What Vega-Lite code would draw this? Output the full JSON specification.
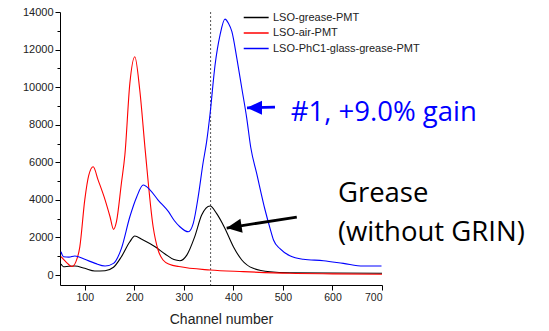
{
  "$schema": "https://vega.github.io/schema/vega-lite/v6.json",
  "width": 322,
  "height": 273,
  "autosize": "none",
  "padding": {"left": 60, "top": 12, "right": 167, "bottom": 46},
  "background": "white",
  "config": {
    "view": {"stroke": null},
    "axis": {"labelFont": "Liberation Sans", "titleFont": "Liberation Sans", "labelColor": "#222", "titleColor": "#222", "domainColor": "#000", "tickColor": "#000", "grid": false, "labelFontSize": 11}
  },
  "resolve": {"axis": {"y": "independent"}},
  "datasets": {
    "curves": [
      {"channel": 52, "count": 585, "series": "LSO-grease-PMT"},
      {"channel": 57, "count": 440, "series": "LSO-grease-PMT"},
      {"channel": 68, "count": 470, "series": "LSO-grease-PMT"},
      {"channel": 80, "count": 480, "series": "LSO-grease-PMT"},
      {"channel": 100, "count": 355, "series": "LSO-grease-PMT"},
      {"channel": 120, "count": 215, "series": "LSO-grease-PMT"},
      {"channel": 141, "count": 230, "series": "LSO-grease-PMT"},
      {"channel": 158, "count": 410, "series": "LSO-grease-PMT"},
      {"channel": 174, "count": 975, "series": "LSO-grease-PMT"},
      {"channel": 191, "count": 1770, "series": "LSO-grease-PMT"},
      {"channel": 201, "count": 2075, "series": "LSO-grease-PMT"},
      {"channel": 215, "count": 1900, "series": "LSO-grease-PMT"},
      {"channel": 242, "count": 1500, "series": "LSO-grease-PMT"},
      {"channel": 262, "count": 1120, "series": "LSO-grease-PMT"},
      {"channel": 280, "count": 820, "series": "LSO-grease-PMT"},
      {"channel": 292, "count": 760, "series": "LSO-grease-PMT"},
      {"channel": 306, "count": 1060, "series": "LSO-grease-PMT"},
      {"channel": 322, "count": 2040, "series": "LSO-grease-PMT"},
      {"channel": 336, "count": 3190, "series": "LSO-grease-PMT"},
      {"channel": 353, "count": 3670, "series": "LSO-grease-PMT"},
      {"channel": 366, "count": 3280, "series": "LSO-grease-PMT"},
      {"channel": 383, "count": 2480, "series": "LSO-grease-PMT"},
      {"channel": 400, "count": 1510, "series": "LSO-grease-PMT"},
      {"channel": 417, "count": 800, "series": "LSO-grease-PMT"},
      {"channel": 440, "count": 355, "series": "LSO-grease-PMT"},
      {"channel": 474, "count": 170, "series": "LSO-grease-PMT"},
      {"channel": 514, "count": 120, "series": "LSO-grease-PMT"},
      {"channel": 600, "count": 105, "series": "LSO-grease-PMT"},
      {"channel": 700, "count": 90, "series": "LSO-grease-PMT"},
      {"channel": 52, "count": 975, "series": "LSO-air-PMT"},
      {"channel": 62, "count": 700, "series": "LSO-air-PMT"},
      {"channel": 74, "count": 450, "series": "LSO-air-PMT"},
      {"channel": 82, "count": 700, "series": "LSO-air-PMT"},
      {"channel": 90, "count": 1500, "series": "LSO-air-PMT"},
      {"channel": 100, "count": 4000, "series": "LSO-air-PMT"},
      {"channel": 108, "count": 5300, "series": "LSO-air-PMT"},
      {"channel": 117, "count": 5760, "series": "LSO-air-PMT"},
      {"channel": 127, "count": 5050, "series": "LSO-air-PMT"},
      {"channel": 141, "count": 4000, "series": "LSO-air-PMT"},
      {"channel": 151, "count": 3100, "series": "LSO-air-PMT"},
      {"channel": 158, "count": 2430, "series": "LSO-air-PMT"},
      {"channel": 164, "count": 2840, "series": "LSO-air-PMT"},
      {"channel": 174, "count": 4900, "series": "LSO-air-PMT"},
      {"channel": 181, "count": 6400, "series": "LSO-air-PMT"},
      {"channel": 191, "count": 10200, "series": "LSO-air-PMT"},
      {"channel": 201, "count": 11620, "series": "LSO-air-PMT"},
      {"channel": 211, "count": 9850, "series": "LSO-air-PMT"},
      {"channel": 222, "count": 6650, "series": "LSO-air-PMT"},
      {"channel": 238, "count": 2570, "series": "LSO-air-PMT"},
      {"channel": 248, "count": 1330, "series": "LSO-air-PMT"},
      {"channel": 258, "count": 800, "series": "LSO-air-PMT"},
      {"channel": 272, "count": 560, "series": "LSO-air-PMT"},
      {"channel": 290, "count": 450, "series": "LSO-air-PMT"},
      {"channel": 353, "count": 266, "series": "LSO-air-PMT"},
      {"channel": 420, "count": 180, "series": "LSO-air-PMT"},
      {"channel": 514, "count": 90, "series": "LSO-air-PMT"},
      {"channel": 600, "count": 60, "series": "LSO-air-PMT"},
      {"channel": 700, "count": 40, "series": "LSO-air-PMT"},
      {"channel": 52, "count": 1240, "series": "LSO-PhC1-glass-grease-PMT"},
      {"channel": 57, "count": 975, "series": "LSO-PhC1-glass-grease-PMT"},
      {"channel": 68, "count": 950, "series": "LSO-PhC1-glass-grease-PMT"},
      {"channel": 80, "count": 1010, "series": "LSO-PhC1-glass-grease-PMT"},
      {"channel": 100, "count": 835, "series": "LSO-PhC1-glass-grease-PMT"},
      {"channel": 121, "count": 620, "series": "LSO-PhC1-glass-grease-PMT"},
      {"channel": 141, "count": 480, "series": "LSO-PhC1-glass-grease-PMT"},
      {"channel": 158, "count": 620, "series": "LSO-PhC1-glass-grease-PMT"},
      {"channel": 174, "count": 1420, "series": "LSO-PhC1-glass-grease-PMT"},
      {"channel": 191, "count": 3100, "series": "LSO-PhC1-glass-grease-PMT"},
      {"channel": 205, "count": 4170, "series": "LSO-PhC1-glass-grease-PMT"},
      {"channel": 218, "count": 4790, "series": "LSO-PhC1-glass-grease-PMT"},
      {"channel": 232, "count": 4520, "series": "LSO-PhC1-glass-grease-PMT"},
      {"channel": 248, "count": 3990, "series": "LSO-PhC1-glass-grease-PMT"},
      {"channel": 269, "count": 3370, "series": "LSO-PhC1-glass-grease-PMT"},
      {"channel": 281, "count": 2890, "series": "LSO-PhC1-glass-grease-PMT"},
      {"channel": 292, "count": 2570, "series": "LSO-PhC1-glass-grease-PMT"},
      {"channel": 309, "count": 2300, "series": "LSO-PhC1-glass-grease-PMT"},
      {"channel": 319, "count": 2750, "series": "LSO-PhC1-glass-grease-PMT"},
      {"channel": 329, "count": 4170, "series": "LSO-PhC1-glass-grease-PMT"},
      {"channel": 339, "count": 6000, "series": "LSO-PhC1-glass-grease-PMT"},
      {"channel": 346, "count": 7100, "series": "LSO-PhC1-glass-grease-PMT"},
      {"channel": 353, "count": 8600, "series": "LSO-PhC1-glass-grease-PMT"},
      {"channel": 363, "count": 11180, "series": "LSO-PhC1-glass-grease-PMT"},
      {"channel": 373, "count": 12770, "series": "LSO-PhC1-glass-grease-PMT"},
      {"channel": 383, "count": 13620, "series": "LSO-PhC1-glass-grease-PMT"},
      {"channel": 390, "count": 13400, "series": "LSO-PhC1-glass-grease-PMT"},
      {"channel": 397, "count": 12950, "series": "LSO-PhC1-glass-grease-PMT"},
      {"channel": 407, "count": 11530, "series": "LSO-PhC1-glass-grease-PMT"},
      {"channel": 417, "count": 9940, "series": "LSO-PhC1-glass-grease-PMT"},
      {"channel": 427, "count": 8340, "series": "LSO-PhC1-glass-grease-PMT"},
      {"channel": 435, "count": 6800, "series": "LSO-PhC1-glass-grease-PMT"},
      {"channel": 447, "count": 5410, "series": "LSO-PhC1-glass-grease-PMT"},
      {"channel": 464, "count": 3460, "series": "LSO-PhC1-glass-grease-PMT"},
      {"channel": 474, "count": 2480, "series": "LSO-PhC1-glass-grease-PMT"},
      {"channel": 481, "count": 1860, "series": "LSO-PhC1-glass-grease-PMT"},
      {"channel": 494, "count": 1400, "series": "LSO-PhC1-glass-grease-PMT"},
      {"channel": 514, "count": 1020, "series": "LSO-PhC1-glass-grease-PMT"},
      {"channel": 541, "count": 835, "series": "LSO-PhC1-glass-grease-PMT"},
      {"channel": 582, "count": 760, "series": "LSO-PhC1-glass-grease-PMT"},
      {"channel": 622, "count": 620, "series": "LSO-PhC1-glass-grease-PMT"},
      {"channel": 662, "count": 480, "series": "LSO-PhC1-glass-grease-PMT"},
      {"channel": 699, "count": 480, "series": "LSO-PhC1-glass-grease-PMT"}
    ],
    "arrows": [
      {"x": 427.5, "y": 8900, "x2": 484, "y2": 8940, "color": "#0000ff", "angle": 0},
      {"x": 386.5, "y": 2500, "x2": 528, "y2": 3087, "color": "#000000", "angle": 351}
    ],
    "labels": [
      {"x": 516, "y": 8620, "text": "#1, +9.0% gain", "color": "#0000ff"},
      {"x": 611, "y": 4300, "text": "Grease", "color": "#000000"},
      {"x": 611, "y": 2230, "text": "(without GRIN)", "color": "#000000"}
    ]
  },
  "layer": [
    {
      "data": {"values": [{"channel": 354}]},
      "mark": {"type": "rule", "color": "#555", "strokeDash": [2, 2], "strokeWidth": 1},
      "encoding": {"x": {"field": "channel", "type": "quantitative", "scale": {"domain": [50, 700]}}}
    },
    {
      "data": {"name": "curves"},
      "mark": {"type": "line", "strokeWidth": 1.1, "interpolate": "monotone"},
      "encoding": {
        "x": {"field": "channel", "type": "quantitative", "scale": {"domain": [50, 700], "nice": false, "zero": false},
          "axis": {"title": "Channel number", "titleFontSize": 14, "titleFontWeight": "normal", "titlePadding": 10, "labelFontSize": 10.5, "labelOverlap": false, "values": [100,150,200,250,300,350,400,450,500,550,600,650,700], "labelExpr": "datum.value % 100 === 0 ? datum.label : ''", "tickSize": {"condition": {"test": "datum.value % 100 !== 0", "value": 3}, "value": 5}, "labelPadding": 2}},
        "y": {"field": "count", "type": "quantitative", "scale": {"domain": [-532, 14000], "nice": false, "zero": false},
          "axis": {"title": null, "orient": "left", "labelOverlap": false, "format": "d", "values": [0,2000,4000,6000,8000,10000,12000,14000], "tickSize": 5, "labelPadding": 2}},
        "color": {"field": "series", "type": "nominal",
          "scale": {"domain": ["LSO-grease-PMT", "LSO-air-PMT", "LSO-PhC1-glass-grease-PMT"], "range": ["#000000", "#ff0000", "#0000ff"]},
          "legend": {"title": null, "orient": "none", "legendX": 199, "legendY": 0, "symbolType": "M -5 0 L 1 0", "symbolSize": 69, "symbolStrokeWidth": 1.5, "labelFont": "Liberation Sans", "labelFontSize": 11, "labelColor": "#222", "labelOffset": 3, "rowPadding": 3.5}}
      }
    },
    {
      "data": {"name": "arrows"},
      "mark": {"type": "rule", "strokeWidth": 2.8},
      "encoding": {
        "x": {"field": "x", "type": "quantitative"},
        "y": {"field": "y", "type": "quantitative", "axis": {"orient": "left", "title": null, "labels": false, "domain": false, "tickSize": 3, "values": [1000,3000,5000,7000,9000,11000,13000]}},
        "x2": {"field": "x2"},
        "y2": {"field": "y2"},
        "color": {"field": "color", "type": "nominal", "scale": null, "legend": null}
      }
    },
    {
      "data": {"name": "arrows"},
      "mark": {"type": "point", "shape": "M 0 0 L 1 -0.47 L 1 0.47 Z", "size": 900, "filled": true, "opacity": 1, "strokeWidth": 0},
      "encoding": {
        "x": {"field": "x", "type": "quantitative"},
        "y": {"field": "y", "type": "quantitative", "axis": null},
        "angle": {"field": "angle", "type": "quantitative", "scale": null},
        "color": {"field": "color", "type": "nominal", "scale": null, "legend": null}
      }
    },
    {
      "data": {"name": "labels"},
      "mark": {"type": "text", "font": "Open Sans", "fontSize": 27.5, "align": "left", "baseline": "middle"},
      "encoding": {
        "x": {"field": "x", "type": "quantitative"},
        "y": {"field": "y", "type": "quantitative", "axis": null},
        "text": {"field": "text"},
        "color": {"field": "color", "type": "nominal", "scale": null, "legend": null}
      }
    }
  ]
}
